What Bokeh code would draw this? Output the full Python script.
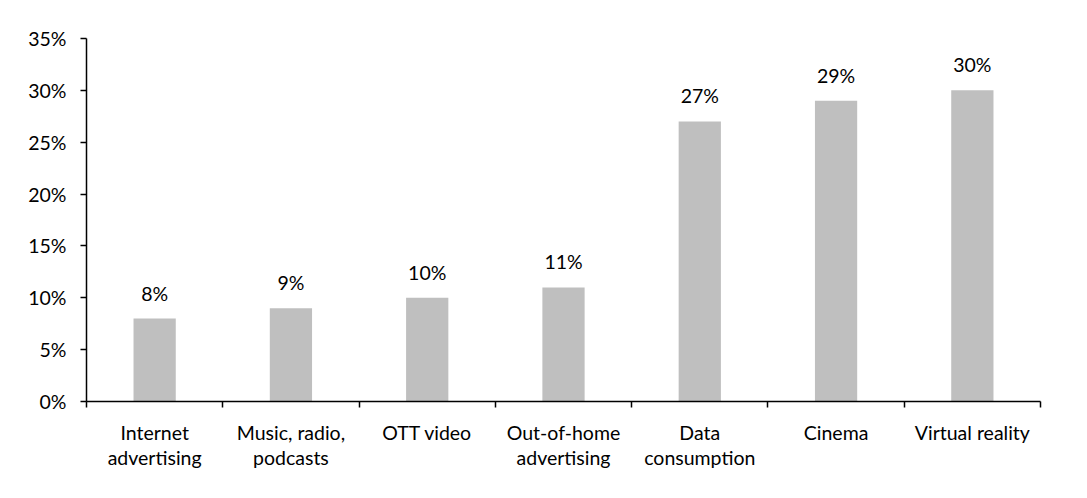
from bokeh.plotting import figure
from bokeh.models import ColumnDataSource, FixedTicker, Range1d
from bokeh.embed import file_html
from bokeh.resources import INLINE
from bokeh.core.properties import value

categories = ["Internet\nadvertising", "Music, radio,\npodcasts", "OTT video",
              "Out-of-home\nadvertising", "Data\nconsumption", "Cinema", "Virtual reality"]
values = [8, 9, 10, 11, 27, 29, 30]
y_ticks = [0, 5, 10, 15, 20, 25, 30, 35]

FONT = "Lato"
FS = "19.5px"
n = len(categories)
xs = [i + 0.5 for i in range(n)]
src = ColumnDataSource(dict(x=xs, top=values, label=[f"{v}%" for v in values]))

p = figure(width=1087, height=498, output_backend="svg", toolbar_location=None,
           x_range=Range1d(0, n), y_range=Range1d(0, 35),
           min_border_left=86, min_border_right=47, min_border_top=38, min_border_bottom=97)
p.outline_line_color = None
p.grid.visible = False

p.vbar(x="x", top="top", width=0.31, source=src, fill_color="#BFBFBF", line_color=None)
p.text(x="x", y="top", text="label", source=src, text_align="center", text_baseline="bottom",
       y_offset=-14, text_font=value(FONT), text_font_size=FS, text_color="black")

xa = p.xaxis[0]
xa.ticker = FixedTicker(ticks=xs, minor_ticks=list(range(n + 1)))
xa.major_label_overrides = {x: c for x, c in zip(xs, categories)}
xa.major_tick_out = 0
xa.major_tick_in = 0
xa.minor_tick_out = 6
xa.minor_tick_in = 0
xa.minor_tick_line_color = "black"
xa.minor_tick_line_width = 1.5
xa.axis_line_color = "black"
xa.axis_line_width = 1.5
xa.major_label_standoff = 13
xa.major_label_text_font = FONT
xa.major_label_text_font_size = FS
xa.major_label_text_line_height = 1.1
xa.major_label_text_color = "black"

ya = p.yaxis[0]
ya.ticker = FixedTicker(ticks=y_ticks, minor_ticks=[])
ya.major_label_overrides = {t: f"{t}%" for t in y_ticks}
ya.major_tick_out = 6
ya.major_tick_in = 0
ya.major_tick_line_color = "black"
ya.major_tick_line_width = 1.5
ya.axis_line_color = "black"
ya.axis_line_width = 1.5
ya.major_label_standoff = 14
ya.major_label_text_font = FONT
ya.major_label_text_font_size = FS
ya.major_label_text_color = "black"

open("out.html", "w").write(file_html(p, INLINE))
